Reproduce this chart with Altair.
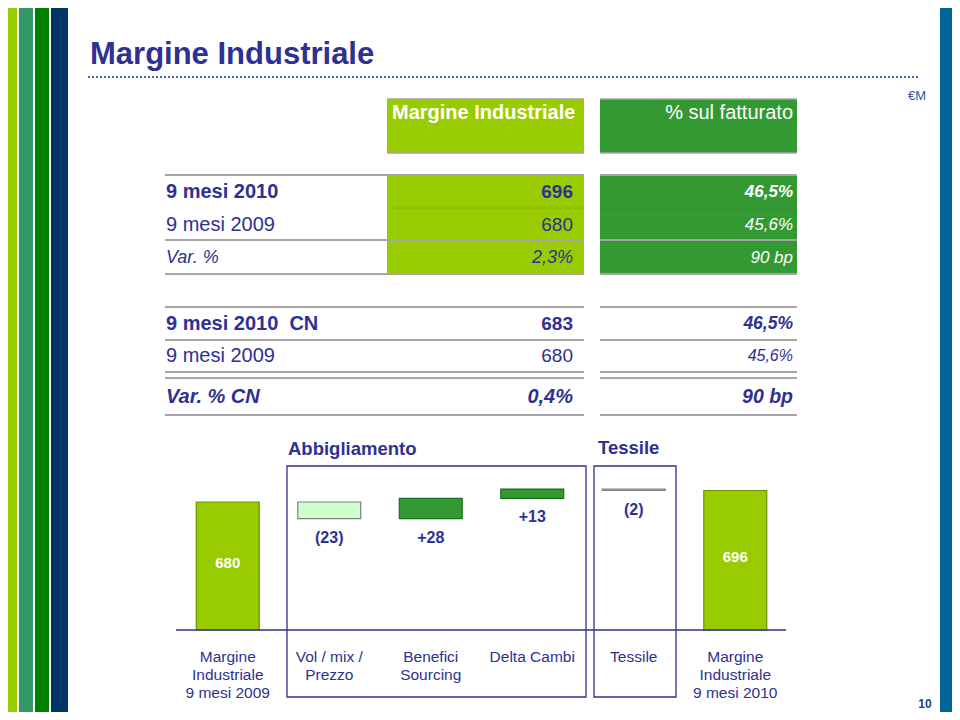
import altair as alt
import pandas as pd

# ---------------- data ----------------
title_text = "Margine Industriale"
unit_text = "€M"
page_number = "10"
header_margin = "Margine Industriale"
header_pct = "% sul fatturato"

t1_labels = ["9 mesi 2010", "9 mesi 2009", "Var. %"]
t1_margin = ["696", "680", "2,3%"]
t1_pct = ["46,5%", "45,6%", "90 bp"]

t2_labels = ["9 mesi 2010\u00a0 CN", "9 mesi 2009", "Var. % CN"]
t2_margin = ["683", "680", "0,4%"]
t2_pct = ["46,5%", "45,6%", "90 bp"]

groups = ["Abbigliamento", "Tessile"]

wf_categories = [
    "Margine\nIndustriale\n9 mesi 2009",
    "Vol / mix /\nPrezzo",
    "Benefici\nSourcing",
    "Delta Cambi",
    "Tessile",
    "Margine\nIndustriale\n9 mesi 2010",
]
wf_values = [680, -23, 28, 13, -2, 696]
wf_kinds = ["total", "neg", "pos", "pos", "neg", "total"]
wf_labels = ["680", "(23)", "+28", "+13", "(2)", "696"]

# ---------------- styling ----------------
FONT = "Liberation Sans"
NAVY = "#2E3192"
LIGHT = "#99CC00"
DARK = "#339933"
GRAY = "#A6A6A6"
M = 8  # page margin
BASE = 502  # broken axis base of the waterfall

one = pd.DataFrame({"k": [0]})


def X(v):
    return alt.value(v - M)


def Y(v):
    return alt.value(v - M)


def rect(x0, x1, y0, y1, fill, stroke=None, sw=1.0, fill_opacity=1.0):
    kw = dict(fill=fill, fillOpacity=fill_opacity)
    if stroke:
        kw.update(stroke=stroke, strokeWidth=sw)
    return alt.Chart(one).mark_rect(**kw).encode(x=X(x0), x2=X(x1), y=Y(y0), y2=Y(y1))


def hline(x0, x1, y, color, sw=1.0, dash=None):
    kw = dict(color=color, strokeWidth=sw)
    if dash:
        kw["strokeDash"] = dash
    return alt.Chart(one).mark_rule(**kw).encode(x=X(x0), x2=X(x1), y=Y(y))


def label(txt, x, y, size, color, align="left", weight="normal", style="normal", baseline="middle"):
    return alt.Chart(pd.DataFrame({"t": [txt]})).mark_text(
        align=align, baseline=baseline, fontSize=size, fontWeight=weight,
        fontStyle=style, color=color, font=FONT,
    ).encode(text="t:N", x=X(x), y=Y(y))


layers = []

# side stripes
layers += [
    rect(0, 17, 0, 720, LIGHT),
    rect(19, 33, 0, 720, "#339966"),
    rect(35, 49, 0, 720, "#008000"),
    rect(51, 68, 0, 720, "#003366"),
    rect(940, 960, 0, 720, "#006699"),
]

# title
layers.append(label(title_text, 90, 64, 31, NAVY, weight="bold", baseline="alphabetic"))
layers.append(hline(88, 920, 77, "#3A6EA5", sw=2, dash=[2, 2]))
layers.append(label(unit_text, 926, 96, 13, "#1F5C99", align="right"))

# header boxes
layers += [
    rect(387, 584, 99, 153, LIGHT),
    rect(600, 797, 99, 153, DARK),
    hline(387, 584, 99, GRAY, 1.5), hline(387, 584, 153, GRAY, 1.5),
    hline(600, 797, 99, GRAY, 1.5), hline(600, 797, 153, GRAY, 1.5),
    label(header_margin, 392, 113, 20, "white", weight="bold"),
    label(header_pct, 793, 113, 20, "white", align="right"),
]

# table 1
layers += [
    rect(387, 584, 175, 274, LIGHT),
    rect(600, 797, 175, 274, DARK),
    hline(387, 584, 208, "#8AB800", 1),
    hline(600, 797, 208, "#2E8A2E", 1),
]
for yy in [175, 240, 274]:
    layers += [hline(165, 584, yy, GRAY, 2), hline(600, 797, yy, GRAY, 2)]

t1_rows = [192, 225, 258]
t1_style = [("bold", "normal"), ("normal", "normal"), ("normal", "italic")]
t1_lsize = [20, 20, 18]
t1_vsize = [19, 19, 18]
for i in range(3):
    w, s = t1_style[i]
    layers.append(label(t1_labels[i], 166, t1_rows[i], t1_lsize[i], NAVY, weight=w, style=s))
    layers.append(label(t1_margin[i], 573, t1_rows[i], t1_vsize[i], NAVY, align="right", weight=w, style=s))
    layers.append(label(t1_pct[i], 793, t1_rows[i], 17, "white", align="right", weight=w, style="italic"))

# table 2
for yy in [307, 340, 372, 378, 415]:
    layers += [hline(165, 584, yy, GRAY, 2), hline(600, 797, yy, GRAY, 2)]
t2_rows = [324, 356, 397]
t2_style = [("bold", "normal"), ("normal", "normal"), ("bold", "italic")]
t2_vsize = [19, 19, 20]
t2_psize = [17.5, 16, 19.5]
for i in range(3):
    w, s = t2_style[i]
    layers.append(label(t2_labels[i], 166, t2_rows[i], 20, NAVY, weight=w, style=s))
    layers.append(label(t2_margin[i], 573, t2_rows[i], t2_vsize[i], NAVY, align="right", weight=w, style=s))
    layers.append(label(t2_pct[i], 793, t2_rows[i], t2_psize[i], NAVY, align="right", weight=w, style="italic"))

# waterfall group boxes and titles
layers += [
    rect(287, 586, 466, 697, "white", stroke=NAVY, sw=1.3, fill_opacity=0),
    rect(594, 676, 466, 697, "white", stroke=NAVY, sw=1.3, fill_opacity=0),
    label(groups[0], 288, 449, 18.5, NAVY, weight="bold"),
    label(groups[1], 598, 448, 18.5, NAVY, weight="bold"),
]

# waterfall data
starts, ends, lab_y = [], [], []
run = 0
for v, k in zip(wf_values, wf_kinds):
    if k == "total":
        s, e = BASE, v
        run = v
        ly = (BASE + v) / 2
    else:
        s, e = run, run + v
        run = e
        ly = min(s, e)
    starts.append(s)
    ends.append(e)
    lab_y.append(ly)

wf = pd.DataFrame({
    "cat": wf_categories, "start": starts, "end": ends,
    "kind": wf_kinds, "lab": wf_labels, "lab_y": lab_y,
})

xscale = alt.Scale(domain=wf_categories, range=[177 - M, 786 - M], paddingInner=0.38, paddingOuter=0.19)
yscale = alt.Scale(domain=[BASE, 700], range=[630 - M, 630 - M - 198 * 0.719], zero=False, nice=False)
xenc = alt.X("cat:N", sort=wf_categories, scale=xscale, axis=None)

bars = alt.Chart(wf).mark_bar(strokeWidth=1.2).encode(
    x=xenc,
    y=alt.Y("start:Q", scale=yscale, axis=None),
    y2="end:Q",
    fill=alt.Fill("kind:N", scale=alt.Scale(domain=["total", "neg", "pos"], range=[LIGHT, "#CCFFCC", DARK]), legend=None),
    stroke=alt.Stroke("kind:N", scale=alt.Scale(domain=["total", "neg", "pos"], range=["#6E8F00", "#808080", "#1F6B1F"]), legend=None),
)

delta_labels = alt.Chart(wf).transform_filter("datum.kind != 'total'").mark_text(
    font=FONT, fontSize=16, fontWeight="bold", color=NAVY, dy=19, baseline="middle"
).encode(x=xenc, y=alt.Y("lab_y:Q", scale=yscale, axis=None), text="lab:N")

total_labels = alt.Chart(wf).transform_filter("datum.kind == 'total'").mark_text(
    font=FONT, fontSize=15, fontWeight="bold", color="white", dy=-3, baseline="middle"
).encode(x=xenc, y=alt.Y("lab_y:Q", scale=yscale, axis=None), text="lab:N")

axis_line = alt.Chart(one).mark_rule(color=NAVY, strokeWidth=1.3).encode(
    x=X(176), x2=X(786), y=alt.Y(datum=BASE, scale=yscale, axis=None)
)

cat_labels = alt.Chart(wf).mark_text(
    font=FONT, fontSize=15.5, color=NAVY, baseline="top", lineBreak="\n", lineHeight=18, align="center"
).encode(x=xenc, y=Y(650), text="cat:N")

layers += [bars, axis_line, delta_labels, total_labels, cat_labels]

# page number
layers.append(label(page_number, 925, 704, 12, "#1F3F7F", align="center", weight="bold"))

chart = alt.layer(*layers).properties(
    width=944, height=704, padding=0, autosize=alt.AutoSizeParams(type="none"),
    background="white",
).configure_view(stroke=None)

chart.save("out.html", embed_options={"renderer": "svg", "actions": False})
